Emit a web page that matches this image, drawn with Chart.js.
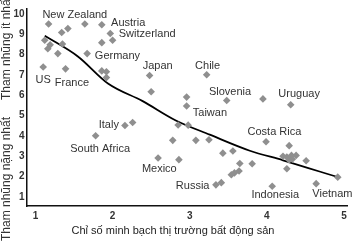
<!DOCTYPE html>
<html>
<head>
<meta charset="utf-8">
<script src="https://cdn.jsdelivr.net/npm/chart.js@4.4.1/dist/chart.umd.min.js"></script>
<style>
  html, body { margin: 0; padding: 0; background: #fff; }
  #wrap { width: 360px; height: 241px; position: relative; }
</style>
</head>
<body>
<div id="wrap"><canvas id="chart"></canvas></div>
<script>
// Điểm các quốc gia
const pointX = [1.17, 1.42, 1.34, 1.64, 1.86, 1.97, 2.00, 1.86, 1.12, 1.19, 1.16, 1.29, 1.35, 1.67, 1.10, 1.39,
  1.86, 1.92, 1.92, 2.48, 3.22, 2.50, 2.96, 2.96, 3.48, 3.95, 4.31, 2.16, 2.26, 2.85, 2.98, 2.78, 3.08, 3.25,
  1.78, 2.59, 2.86, 3.43, 3.56, 3.65, 3.81, 3.64, 3.58, 3.54, 3.41, 3.34, 3.99, 4.29, 4.21, 4.26, 4.32, 4.38,
  4.29, 4.33, 4.51, 4.26, 4.07, 4.64, 4.92];
const pointY = [9.51, 9.28, 9.09, 9.51, 9.47, 9.04, 8.71, 8.59, 8.71, 8.48, 8.29, 8.05, 8.52, 8.05, 7.39, 7.30,
  7.20, 7.16, 6.87, 6.97, 7.01, 6.17, 5.91, 5.47, 5.74, 5.82, 5.53, 4.51, 4.66, 4.54, 4.53, 3.78, 3.78, 3.81,
  4.01, 2.91, 2.83, 3.15, 3.26, 2.64, 2.63, 2.27, 2.18, 2.09, 1.70, 1.59, 3.71, 3.52, 3.00, 2.96, 3.04, 3.04,
  2.82, 2.85, 2.78, 2.38, 1.52, 1.65, 1.97];

// Đường xu hướng
const trendX = [1.12, 1.55, 1.94, 2.39, 2.82, 3.26, 3.78, 4.21, 4.92];
const trendY = [8.93, 7.91, 6.58, 5.71, 4.76, 4.06, 3.27, 2.80, 1.97];

// Nhãn quốc gia
const labelNames = ['New Zealand', 'Austria', 'Switzerland', 'Germany', 'US', 'France', 'Japan', 'Chile',
  'Slovenia', 'Uruguay', 'Taiwan', 'Italy', 'South Africa', 'Mexico', 'Russia', 'Costa Rica', 'Indonesia', 'Vietnam'];
const labelX = [1.09, 1.98, 2.08, 1.77, 1.00, 1.25, 2.39, 3.07, 3.25, 4.15, 3.04, 1.82, 1.45, 2.38, 2.82, 3.75, 3.80, 4.59];
const labelY = [9.94, 9.56, 9.01, 7.91, 6.75, 6.60, 7.44, 7.44, 6.17, 6.06, 5.13, 4.56, 3.38, 2.39, 1.54, 4.20, 1.07, 1.15];

const xTicks = [1, 2, 3, 4, 5];
const yTicks = [1, 2, 3, 4, 5, 6, 7, 8, 9, 10];

const xTitle = 'Chỉ số minh bạch thị trường bất động sản';
const yTitleTop = 'Tham nhũng ít nhất';
const yTitleBottom = 'Tham nhũng nặng nhất';

const FONT = "'Liberation Sans', Arial, sans-serif";
const TICK_FONT = "'Liberation Sans Narrow', 'Liberation Sans', Arial, sans-serif";

// vẽ tên nước + tiêu đề trục
const textPlugin = {
    id: 'texts',
    afterDatasetsDraw(chart) {
        const { ctx, scales: { x, y } } = chart;
        ctx.save();
        ctx.fillStyle = '#333';
        ctx.font = '11px ' + FONT;
        ctx.textAlign = 'left';
        ctx.textBaseline = 'middle';
        labelNames.forEach((name, i) => {
            ctx.fillText(name, x.getPixelForValue(labelX[i]), y.getPixelForValue(labelY[i]));
        });

        ctx.fillStyle = '#222';
        ctx.font = '11px ' + FONT;
        ctx.textAlign = 'center';
        ctx.fillText(xTitle, 173, 231);

        ctx.font = '12px ' + FONT;
        ctx.fillStyle = '#333';
        [[yTitleTop, 48], [yTitleBottom, 179]].forEach(([t, cy]) => {
            ctx.save();
            ctx.translate(7, cy);
            ctx.rotate(-Math.PI / 2);
            ctx.fillText(t, 0, 0);
            ctx.restore();
        });
        ctx.restore();
    }
};

new Chart(document.getElementById('chart'), {
    type: 'scatter',
    data: {
        datasets: [{
            data: pointX.map((v, i) => ({ x: v, y: pointY[i] })),
            pointStyle: 'rectRot',
            pointRadius: 3.8,
            backgroundColor: '#8f8f8f',
            borderColor: '#8f8f8f',
            borderWidth: 0,
            clip: false
        }, {
            type: 'line',
            data: trendX.map((v, i) => ({ x: v, y: trendY[i] })),
            borderColor: '#000',
            borderWidth: 1.8,
            pointRadius: 0,
            cubicInterpolationMode: 'monotone',
            fill: false,
            clip: false
        }]
    },
    options: {
        responsive: true,
        maintainAspectRatio: false,
        animation: false,
        layout: { padding: { left: 0, right: 13, top: 0, bottom: 0 } },
        plugins: { legend: { display: false }, tooltip: { enabled: false } },
        scales: {
            x: {
                type: 'linear',
                min: 0.89,
                max: 5.04,
                afterBuildTicks: s => { s.ticks = xTicks.map(v => ({ value: v })); },
                afterFit: s => { s.height = 35; },
                grid: { display: false, drawTicks: false },
                border: { color: '#111', width: 1.5 },
                ticks: { padding: 4, color: '#333', font: { family: TICK_FONT, size: 10, weight: 'bold' } }
            },
            y: {
                min: 0.55,
                max: 10.27,
                afterBuildTicks: s => { s.ticks = yTicks.map(v => ({ value: v })); },
                afterFit: s => { s.width = 27; },
                grid: { display: false, drawTicks: false },
                border: { color: '#111', width: 1.5 },
                ticks: { padding: 2.5, color: '#333', font: { family: TICK_FONT, size: 10, weight: 'bold' } }
            }
        }
    },
    plugins: [textPlugin]
});
</script>
</body>
</html>
